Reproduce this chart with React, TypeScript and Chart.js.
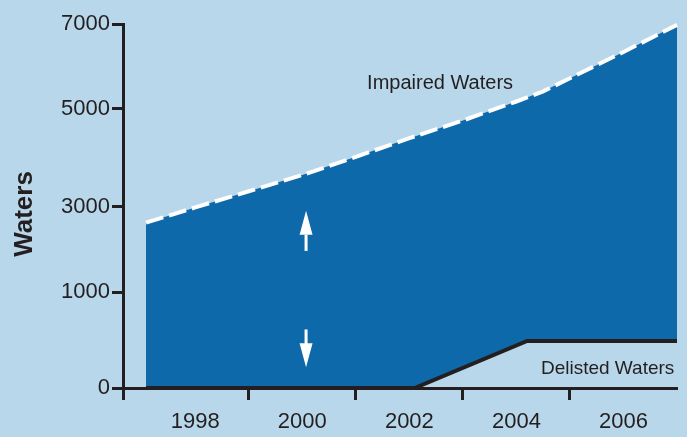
import React, { useEffect, useRef } from 'react';
import { Chart, registerables, LinearScale } from 'chart.js';

// ---------------- data ----------------
const impairedYears = [1997.08, 1998, 1999, 2000, 2001, 2002, 2003, 2004, 2004.5, 2005, 2006, 2007];
const impairedValues = [2630, 2990, 3320, 3650, 4020, 4400, 4760, 5170, 5410, 5720, 6340, 6980];
const delistedYears = [1997.08, 2002.1, 2004.2, 2007];
const delistedValues = [0, 0, 490, 490];
const yTickValues = [0, 1000, 3000, 5000, 7000];
const xLabelYears = [1998, 2000, 2002, 2004, 2006];
const xTickMarkYears = [1999, 2001, 2003, 2005];
const seriesLabels = ['Impaired Waters', 'Delisted Waters'];
const yAxisTitle = 'Waters';
// annotation anchors (data units)
const arrowYear = 2000.07;
const upArrow = [1990, 2910]; // tail, tip
const downArrow = [610, 215]; // tail, tip
const impairedLabelAt = [2001.21, 5458];
const delistedLabelAt = [2006.95, 146];

// ---------------- style ----------------
const BG = '#b9d7ea';
const AREA = '#0e69ab';
const INK = '#231f20';
const FONT = '"Liberation Sans", Arial, Helvetica, sans-serif';
const X_MIN = 1996.65;
const X_MAX = 2007;
// fraction of the axis height at which each y tick sits (the source axis is irregular)
const Y_TICK_FRACTIONS = [0, 0.2637, 0.4973, 0.7673, 1];

function interp(v: number, xs: number[], ys: number[]) {
  const n = xs.length;
  let i = 0;
  if (v <= xs[0]) i = 0;
  else if (v >= xs[n - 1]) i = n - 2;
  else {
    while (i < n - 2 && v > xs[i + 1]) i++;
  }
  const t = (v - xs[i]) / (xs[i + 1] - xs[i]);
  return ys[i] + t * (ys[i + 1] - ys[i]);
}

class PiecewiseScale extends LinearScale {
  static id = 'piecewise';
  getPixelForValue(value: number) {
    return this.getPixelForDecimal(interp(value, yTickValues, Y_TICK_FRACTIONS));
  }
  getValueForPixel(pixel: number) {
    return interp(this.getDecimalForPixel(pixel), Y_TICK_FRACTIONS, yTickValues);
  }
}

Chart.register(...registerables, PiecewiseScale as any);

function drawArrow(ctx: CanvasRenderingContext2D, x: number, yTail: number, yTip: number) {
  const dir = yTip > yTail ? 1 : -1;
  const headLen = 24;
  const headHalf = 6.5;
  const base = yTip - dir * headLen;
  ctx.fillRect(x - 1.5, Math.min(yTail, base), 3, Math.abs(base - yTail) + 1);
  ctx.beginPath();
  ctx.moveTo(x, yTip);
  ctx.lineTo(x - headHalf, base);
  ctx.lineTo(x + headHalf, base);
  ctx.closePath();
  ctx.fill();
}

const annotationPlugin = {
  id: 'annotations',
  afterDatasetsDraw(chart: any) {
    const { ctx, chartArea } = chart;
    const xs = chart.scales.x;
    const ys = chart.scales.y;
    ctx.save();
    ctx.fillStyle = '#ffffff';
    const ax = xs.getPixelForValue(arrowYear);
    drawArrow(ctx, ax, ys.getPixelForValue(upArrow[0]), ys.getPixelForValue(upArrow[1]));
    drawArrow(ctx, ax, ys.getPixelForValue(downArrow[0]), ys.getPixelForValue(downArrow[1]));

    ctx.fillStyle = INK;
    ctx.textBaseline = 'alphabetic';
    ctx.font = `20px ${FONT}`;
    ctx.textAlign = 'left';
    ctx.fillText(seriesLabels[0], xs.getPixelForValue(impairedLabelAt[0]), ys.getPixelForValue(impairedLabelAt[1]));
    ctx.font = `19px ${FONT}`;
    ctx.textAlign = 'right';
    ctx.fillText(seriesLabels[1], xs.getPixelForValue(delistedLabelAt[0]), ys.getPixelForValue(delistedLabelAt[1]));

    // y axis title
    ctx.translate(24.5, (chartArea.top + chartArea.bottom) / 2 + 8);
    ctx.rotate(-Math.PI / 2);
    ctx.font = `bold 26px ${FONT}`;
    ctx.textAlign = 'center';
    ctx.textBaseline = 'middle';
    ctx.fillText(yAxisTitle, 0, 0);
    ctx.restore();
  },
};

export default function App() {
  const ref = useRef<HTMLCanvasElement>(null);
  useEffect(() => {
    Chart.defaults.font.family = FONT;
    const chart = new Chart(ref.current as HTMLCanvasElement, {
      type: 'line',
      data: {
        datasets: [
          {
            label: seriesLabels[0],
            data: impairedYears.map((x, i) => ({ x, y: impairedValues[i] })),
            borderColor: '#ffffff',
            borderWidth: 4,
            borderDash: [18, 6],
            backgroundColor: AREA,
            fill: '+1',
            pointRadius: 0,
            tension: 0,
            order: 1,
            clip: false,
          } as any,
          {
            label: seriesLabels[1],
            data: delistedYears.map((x, i) => ({ x, y: delistedValues[i] })),
            borderColor: INK,
            borderWidth: 4,
            fill: false,
            pointRadius: 0,
            tension: 0,
            order: 0,
            clip: false,
          } as any,
        ],
      },
      options: {
        animation: false,
        responsive: true,
        maintainAspectRatio: false,
        events: [],
        layout: { padding: { top: 24, right: 10, left: 0, bottom: 0 } },
        plugins: { legend: { display: false }, tooltip: { enabled: false } },
        scales: {
          x: {
            type: 'linear',
            min: X_MIN,
            max: X_MAX,
            afterBuildTicks: (s: any) => {
              const vals = [X_MIN, ...xLabelYears, ...xTickMarkYears].sort((a, b) => a - b);
              s.ticks = vals.map((v) => ({ value: v }));
            },
            afterFit: (s: any) => {
              s.height = 49;
            },
            grid: {
              drawOnChartArea: false,
              drawTicks: true,
              tickLength: 12,
              tickWidth: 3,
              tickColor: (c: any) =>
                c.tick && xLabelYears.includes(c.tick.value) ? 'rgba(0,0,0,0)' : INK,
            },
            border: { display: true, color: INK, width: 3 },
            ticks: {
              autoSkip: false,
              maxRotation: 0,
              padding: 9,
              color: INK,
              font: { size: 22, family: FONT },
              callback: (v: any) => (xLabelYears.includes(v) ? String(v) : ''),
            },
          } as any,
          y: {
            type: 'piecewise',
            min: 0,
            max: 7000,
            afterBuildTicks: (s: any) => {
              s.ticks = yTickValues.map((v) => ({ value: v }));
            },
            afterFit: (s: any) => {
              s.width = 123;
            },
            grid: {
              drawOnChartArea: false,
              drawTicks: true,
              tickLength: 11,
              tickWidth: 3,
              tickColor: INK,
            },
            border: { display: true, color: INK, width: 3 },
            ticks: {
              autoSkip: false,
              padding: 2,
              color: INK,
              font: { size: 22, family: FONT },
              callback: (v: any) => String(v),
            },
          } as any,
        },
      },
      plugins: [annotationPlugin],
    } as any);
    return () => chart.destroy();
  }, []);
  return (
    <div style={{ position: 'absolute', left: 0, top: 0, width: 687, height: 437, background: BG }}>
      <canvas ref={ref} />
    </div>
  );
}
